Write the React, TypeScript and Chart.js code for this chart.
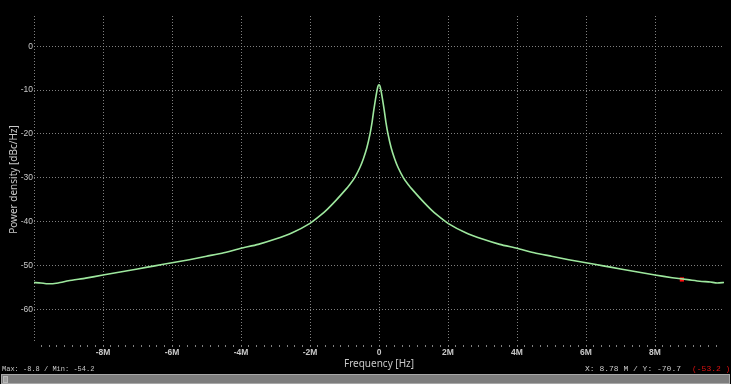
import React, { useEffect, useRef } from "react";
import { Chart, registerables } from "chart.js";

Chart.register(...registerables);

// Frequency offset in MHz and power spectral density in dBc/Hz
const FREQ_MHZ = [
  -10.0, -9.8, -9.6, -9.3, -9.0, -8.5, -8.0, -7.5, -7.0, -6.5, -6.0, -5.5, -5.0, -4.5, -4.0,
  -3.5, -3.0, -2.5, -2.0, -1.7, -1.5, -1.24, -1.0, -0.85, -0.7, -0.55, -0.45, -0.35, -0.26,
  -0.2, -0.15, -0.1, -0.06, -0.03, 0,
  0.03, 0.06, 0.1, 0.15, 0.2, 0.26, 0.35, 0.45, 0.55, 0.7, 0.85, 1.0, 1.24, 1.5, 1.7, 2.0,
  2.5, 3.0, 3.5, 4.0, 4.5, 5.0, 5.5, 6.0, 6.5, 7.0, 7.5, 8.0, 8.5, 9.0, 9.3, 9.6, 9.8, 10.0,
];
const PSD_DBC = [
  -53.9, -54.0, -54.2, -54.0, -53.5, -52.9, -52.2, -51.5, -50.8, -50.1, -49.4, -48.7, -47.9, -47.1, -46.1,
  -45.2, -44.0, -42.5, -40.4, -38.6, -37.2, -35.1, -33.0, -31.6, -29.9, -27.6, -25.6, -23.1, -20.0,
  -17.3, -14.5, -12.0, -10.2, -9.1, -8.8,
  -9.1, -10.2, -12.0, -14.5, -17.3, -20.0, -23.1, -25.6, -27.6, -29.9, -31.6, -33.0, -35.1, -37.2, -38.6, -40.4,
  -42.5, -44.0, -45.2, -46.1, -47.1, -47.9, -48.7, -49.4, -50.1, -50.8, -51.5, -52.2, -52.8, -53.3, -53.6, -53.8, -54.0, -53.9,
];

const MARKER_MHZ = [8.78];
const MARKER_DBC = [-53.2];

const Y_TICKS = [0, -10, -20, -30, -40, -50, -60];
const X_MIN_MHZ = -10;
const X_MAX_MHZ = 10;
const X_MAJOR_STEP_MHZ = 2;
const X_MINOR_PER_MAJOR = 9;
const Y_MIN = -67.7;
const Y_MAX = 6.9;

const GRID = "rgba(150,150,150,0.85)";
const TEXT = "#c8c8c8";

function isMajor(vHz: number) {
  const q = vHz / (X_MAJOR_STEP_MHZ * 1e6);
  return Math.abs(q - Math.round(q)) < 1e-6;
}

export default function App() {
  const ref = useRef<HTMLCanvasElement | null>(null);

  useEffect(() => {
    document.body.style.margin = "0";
    document.body.style.background = "#000";
    const canvas = ref.current;
    if (!canvas) return;

    const xTicks: { value: number }[] = [];
    const n = Math.round(((X_MAX_MHZ - X_MIN_MHZ) / X_MAJOR_STEP_MHZ) * X_MINOR_PER_MAJOR);
    for (let k = 0; k < n; k++) {
      const v = X_MIN_MHZ * 1e6 + (k * X_MAJOR_STEP_MHZ * 1e6) / X_MINOR_PER_MAJOR;
      xTicks.push({ value: Math.abs(v) < 1 ? 0 : v });
    }

    const chart = new Chart(canvas, {
      type: "line",
      data: {
        datasets: [
          {
            data: FREQ_MHZ.map((f, i) => ({ x: f * 1e6, y: PSD_DBC[i] })),
            borderColor: "#9ee89e",
            borderWidth: 1.6,
            pointRadius: 0,
            tension: 0.2,
            fill: false,
          },
          {
            data: MARKER_MHZ.map((f, i) => ({ x: f * 1e6, y: MARKER_DBC[i] })),
            showLine: false,
            pointStyle: "rect",
            pointRadius: 3,
            backgroundColor: "#ff1010",
            borderColor: "#ff1010",
            borderWidth: 0,
          },
        ],
      },
      options: {
        animation: false,
        responsive: false,
        maintainAspectRatio: false,
        events: [],
        layout: { padding: { top: 16, right: 7, left: 0, bottom: 0 } },
        plugins: { legend: { display: false }, tooltip: { enabled: false } },
        scales: {
          x: {
            type: "linear",
            min: X_MIN_MHZ * 1e6,
            max: X_MAX_MHZ * 1e6,
            afterBuildTicks: (s: any) => {
              s.ticks = xTicks.map((t) => ({ value: t.value }));
            },
            afterFit: (s: any) => {
              s.height = 29;
            },
            border: { display: false, dash: [1, 2] },
            grid: {
              color: (ctx: any) =>
                ctx.tick && (isMajor(ctx.tick.value) || ctx.tick.value === X_MIN_MHZ * 1e6) ? GRID : "transparent",
              tickColor: (ctx: any) => (ctx.tick && ctx.tick.value === X_MIN_MHZ * 1e6 ? "transparent" : GRID),
              tickLength: 5,
              tickBorderDash: [0, 2, 2, 10],
              lineWidth: 1,
            },
            ticks: {
              autoSkip: false,
              maxRotation: 0,
              minRotation: 0,
              padding: 0,
              color: TEXT,
              font: { family: "Liberation Sans", size: 8.5, weight: "bold" },
              callback: (v: any) => {
                const val = Number(v);
                if (!isMajor(val) || val === X_MIN_MHZ * 1e6) return "";
                const m = Math.round(val / 1e6);
                return m === 0 ? "0" : `${m}M`;
              },
            },
            title: {
              display: true,
              text: "Frequency [Hz]",
              color: TEXT,
              font: { family: "Noto Sans", size: 10 },
              padding: { top: 0, bottom: 1.5 },
            },
          },
          y: {
            type: "linear",
            min: Y_MIN,
            max: Y_MAX,
            afterBuildTicks: (s: any) => {
              s.ticks = Y_TICKS.map((v) => ({ value: v }));
            },
            afterFit: (s: any) => {
              s.width = 34;
            },
            border: { display: false, dash: [1, 2] },
            grid: { color: GRID, drawTicks: false, lineWidth: 1 },
            ticks: {
              padding: 1,
              color: TEXT,
              font: { family: "Liberation Sans", size: 8.5 },
              callback: (v: any) => String(v),
            },
            title: {
              display: true,
              text: "Power density [dBc/Hz]",
              color: TEXT,
              font: { family: "Noto Sans", size: 10 },
              padding: { top: 8.5, bottom: 0 },
            },
          },
        },
      },
    });
    return () => chart.destroy();
  }, []);

  return (
    <div
      style={{
        position: "fixed",
        left: 0,
        top: 0,
        width: 731,
        height: 384,
        background: "#000",
        overflow: "hidden",
      }}
    >
      <canvas ref={ref} width={731} height={372} style={{ position: "absolute", left: 0, top: 0, width: 731, height: 372 }} />
      <div
        style={{
          position: "absolute",
          left: 2,
          top: 365,
          font: '7px "Liberation Mono", monospace',
          lineHeight: "8px",
          color: TEXT,
          whiteSpace: "pre",
        }}
      >
        Max: -8.8 / Min: -54.2
      </div>
      <div
        style={{
          position: "absolute",
          left: 585,
          top: 365,
          font: '8px "Liberation Mono", monospace',
          lineHeight: "8px",
          color: TEXT,
          whiteSpace: "pre",
        }}
      >
        X: 8.78 M / Y: -70.7
      </div>
      <div
        style={{
          position: "absolute",
          left: 692,
          top: 365,
          font: '8px "Liberation Mono", monospace',
          lineHeight: "8px",
          color: "#e01010",
          whiteSpace: "pre",
        }}
      >
        (-53.2 )
      </div>
      <div
        style={{
          position: "absolute",
          left: 1,
          top: 374,
          width: 727,
          height: 8,
          background: "#7d7d7d",
          border: "1px solid #a8a8a8",
        }}
      />
      <div
        style={{
          position: "absolute",
          left: 3,
          top: 376,
          width: 3,
          height: 5,
          background: "#a0a0a0",
          border: "1px solid #b8b8b8",
        }}
      />
    </div>
  );
}
